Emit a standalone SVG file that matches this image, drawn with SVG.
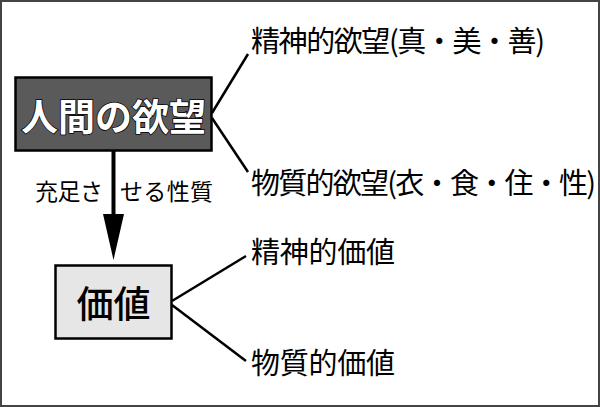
<svg xmlns="http://www.w3.org/2000/svg" width="600" height="407" viewBox="0 0 600 407">
<style>
.t{font-family:"Noto Sans CJK JP","Noto Sans CJK SC",sans-serif;fill:#000}
.lbl{font-size:29px}
.ln{stroke:#000;stroke-width:2.5;fill:none}
</style>
<rect x="1" y="1" width="598" height="405" fill="#fff" stroke="#444" stroke-width="2"/>
<g id="node-desire">
<rect x="15.5" y="77.5" width="196" height="73" fill="#5a5a5a" stroke="#000" stroke-width="2.5"/>
<text class="t" x="113.5" y="131" text-anchor="middle" font-size="37" font-weight="bold" style="fill:#fff;stroke:#000;stroke-width:1.5;paint-order:stroke">人間の欲望</text>
</g>
<g id="node-value">
<rect x="55.5" y="265.5" width="116" height="73" fill="#e6e6e6" stroke="#000" stroke-width="2.5"/>
<text class="t" x="113.5" y="318" text-anchor="middle" font-size="37" font-weight="500">価値</text>
</g>
<g id="node-spiritual-desire"><text class="t lbl" x="251" y="52" textLength="294" lengthAdjust="spacing">精神的欲望(真・美・善)</text></g>
<g id="node-material-desire"><text class="t lbl" x="251" y="194" textLength="345" lengthAdjust="spacing">物質的欲望(衣・食・住・性)</text></g>
<g id="node-spiritual-value"><text class="t lbl" x="251" y="263" textLength="144" lengthAdjust="spacing">精神的価値</text></g>
<g id="node-material-value"><text class="t lbl" x="251" y="374" textLength="144" lengthAdjust="spacing">物質的価値</text></g>
<g id="connectors">
<line class="ln" x1="212" y1="113" x2="248" y2="54"/>
<line class="ln" x1="212" y1="118" x2="248" y2="172"/>
<line class="ln" x1="172" y1="301" x2="246" y2="256"/>
<line class="ln" x1="172" y1="305" x2="246" y2="361"/>
<line x1="113.5" y1="151" x2="113.5" y2="216" stroke="#000" stroke-width="4"/>
<polygon points="103,214 124,214 113.5,260" fill="#000"/>
<text class="t" x="35" y="200" font-size="23" textLength="68" lengthAdjust="spacing">充足さ</text>
<text class="t" x="120" y="200" font-size="23" textLength="93" lengthAdjust="spacing">せる性質</text>
</g>
</svg>
